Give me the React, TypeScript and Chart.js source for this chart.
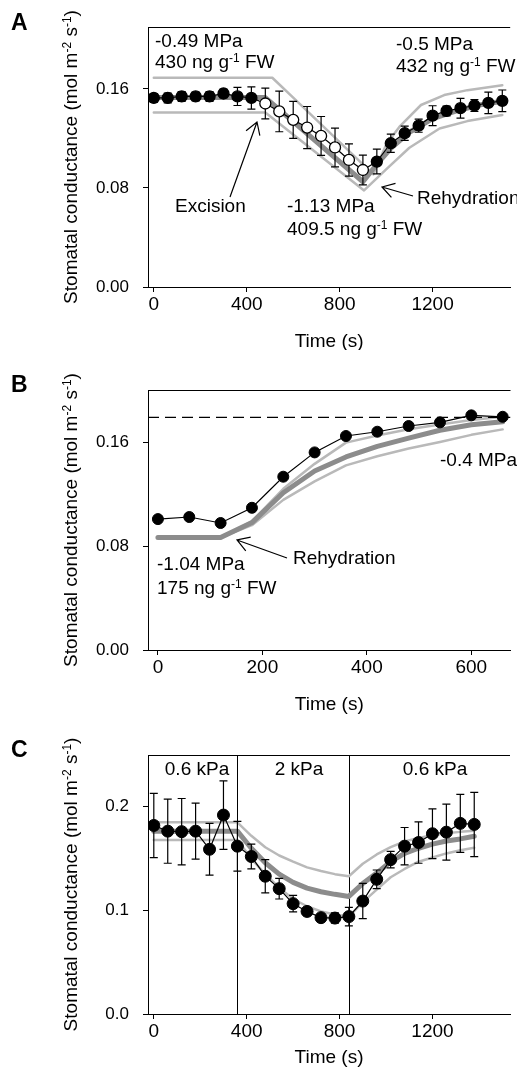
import React, { useEffect, useRef } from "react";
import { Chart, registerables } from "chart.js";
Chart.register(...registerables);

const FONT = '"Liberation Sans", Arial, Helvetica, sans-serif';
const W = 517;

// ---------------- Panel A data ----------------
const timeA = [0, 60, 120, 180, 240, 300, 360, 420, 480, 540, 600, 660, 720, 780, 840, 900, 960, 1020, 1080, 1140, 1200, 1260, 1320, 1380, 1440, 1500];
const gsA = [0.1527, 0.1527, 0.1539, 0.1539, 0.1539, 0.1563, 0.1539, 0.1527, 0.1482, 0.1418, 0.135, 0.1288, 0.122, 0.1127, 0.1026, 0.0945, 0.1013, 0.1161, 0.1242, 0.1303, 0.1384, 0.1422, 0.1444, 0.1466, 0.1487, 0.1504];
const errA = [0.0035, 0.004, 0.004, 0.0035, 0.004, 0.0035, 0.0073, 0.009, 0.0124, 0.0164, 0.015, 0.017, 0.0157, 0.0157, 0.013, 0.012, 0.01, 0.0073, 0.0057, 0.0053, 0.008, 0.004, 0.008, 0.0047, 0.0087, 0.0087];
const excisedA = [480, 540, 600, 660, 720, 780, 840, 900];
const modelA_t = [0, 480, 900, 960, 1020, 1100, 1200, 1300, 1400, 1500];
const modelA = [0.153, 0.153, 0.085, 0.099, 0.112, 0.125, 0.136, 0.142, 0.147, 0.15];
const upperA_t = [0, 510, 600, 700, 800, 900, 945, 1000, 1060, 1150, 1250, 1350, 1500];
const upperA = [0.169, 0.169, 0.153, 0.135, 0.117, 0.099, 0.091, 0.115, 0.13, 0.147, 0.155, 0.159, 0.163];
const lowerA_t = [0, 480, 905, 1000, 1100, 1230, 1350, 1500];
const lowerA = [0.141, 0.141, 0.078, 0.095, 0.1125, 0.128, 0.134, 0.139];
const xTicksA = [0, 400, 800, 1200];
const yTicksA = [0, 0.08, 0.16];
const yLabelsA = ["0.00", "0.08", "0.16"];

// ---------------- Panel B data ----------------
const timeB = [0, 60, 120, 180, 240, 300, 360, 420, 480, 540, 600, 660];
const gsB = [0.1007, 0.1023, 0.0977, 0.1094, 0.1333, 0.152, 0.1646, 0.1679, 0.1723, 0.1751, 0.1805, 0.1794];
const modelB_t = [0, 120, 180, 240, 300, 360, 420, 480, 540, 600, 660];
const modelB = [0.0865, 0.0865, 0.098, 0.121, 0.1377, 0.1485, 0.1566, 0.163, 0.169, 0.1733, 0.1756];
const upperB = [0.0865, 0.0865, 0.099, 0.124, 0.1432, 0.1595, 0.165, 0.1698, 0.1735, 0.177, 0.1794];
const lowerB = [0.0865, 0.0865, 0.096, 0.1155, 0.1297, 0.142, 0.149, 0.155, 0.16, 0.1655, 0.1697];
const wellWateredB = 0.179;
const xTicksB = [0, 200, 400, 600];
const yTicksB = [0, 0.08, 0.16];
const yLabelsB = ["0.00", "0.08", "0.16"];

// ---------------- Panel C data ----------------
const timeC = [0, 60, 120, 180, 240, 300, 360, 420, 480, 540, 600, 660, 720, 780, 840, 900, 960, 1020, 1080, 1140, 1200, 1260, 1320, 1380];
const gsC = [0.182, 0.1765, 0.176, 0.1765, 0.159, 0.192, 0.162, 0.152, 0.133, 0.121, 0.1065, 0.099, 0.093, 0.0926, 0.094, 0.109, 0.13, 0.149, 0.162, 0.1655, 0.174, 0.1755, 0.184, 0.183];
const errC = [0.031, 0.031, 0.032, 0.027, 0.025, 0.033, 0.024, 0.012, 0.016, 0.01, 0.008, 0.004, 0.003, 0.005, 0.009, 0.017, 0.009, 0.008, 0.018, 0.02, 0.024, 0.027, 0.028, 0.031];
const modelC_t = [0, 360, 420, 480, 540, 600, 660, 720, 780, 840, 900, 960, 1020, 1080, 1140, 1200, 1260, 1320, 1380];
const modelC = [0.1765, 0.1765, 0.16, 0.146, 0.135, 0.127, 0.1215, 0.118, 0.1155, 0.1135, 0.126, 0.136, 0.147, 0.155, 0.16, 0.164, 0.167, 0.169, 0.1716];
const upperC = [0.185, 0.185, 0.172, 0.161, 0.153, 0.147, 0.1415, 0.138, 0.135, 0.133, 0.145, 0.154, 0.161, 0.1665, 0.17, 0.1725, 0.1745, 0.1758, 0.1768];
const lowerC = [0.168, 0.168, 0.15, 0.135, 0.122, 0.111, 0.104, 0.099, 0.096, 0.094, 0.108, 0.12, 0.132, 0.14, 0.147, 0.151, 0.155, 0.158, 0.1604];
const vpdChangesC = [360, 840];
const xTicksC = [0, 400, 800, 1200];
const yTicksC = [0, 0.1, 0.2];
const yLabelsC = ["0.0", "0.1", "0.2"];

const Y_TITLE = "Stomatal conductance (mol m^{-2} s^{-1})";

// ---------------- helpers ----------------
const pts = (xs: number[], ys: number[]) => xs.map((x, i) => ({ x, y: ys[i] }));

function parseRich(s: string) {
  const out: { t: string; sup: boolean }[] = [];
  const re = /\^\{([^}]*)\}/g;
  let last = 0;
  let m: RegExpExecArray | null;
  while ((m = re.exec(s))) {
    if (m.index > last) out.push({ t: s.slice(last, m.index), sup: false });
    out.push({ t: m[1], sup: true });
    last = m.index + m[0].length;
  }
  if (last < s.length) out.push({ t: s.slice(last), sup: false });
  return out;
}

function drawRich(ctx: CanvasRenderingContext2D, s: string, x: number, y: number, size: number, align = "left", weight = "normal") {
  const segs = parseRich(s);
  const mainF = `${weight} ${size}px ${FONT}`;
  const supF = `${weight} ${Math.round(size * 0.62)}px ${FONT}`;
  let w = 0;
  const widths = segs.map((g) => {
    ctx.font = g.sup ? supF : mainF;
    const ww = ctx.measureText(g.t).width;
    w += ww;
    return ww;
  });
  let cx = align === "center" ? x - w / 2 : align === "right" ? x - w : x;
  ctx.textAlign = "left";
  ctx.textBaseline = "alphabetic";
  ctx.fillStyle = "#000";
  segs.forEach((g, i) => {
    ctx.font = g.sup ? supF : mainF;
    ctx.fillText(g.t, cx, g.sup ? y - size * 0.32 : y);
    cx += widths[i];
  });
}

function drawArrow(ctx: CanvasRenderingContext2D, x1: number, y1: number, x2: number, y2: number) {
  const a = Math.atan2(y1 - y2, x1 - x2);
  const L = 14;
  const s = 0.55;
  ctx.save();
  ctx.strokeStyle = "#000";
  ctx.lineWidth = 1.2;
  ctx.beginPath();
  ctx.moveTo(x1, y1);
  ctx.lineTo(x2, y2);
  ctx.moveTo(x2 + L * Math.cos(a + s), y2 + L * Math.sin(a + s));
  ctx.lineTo(x2, y2);
  ctx.lineTo(x2 + L * Math.cos(a - s), y2 + L * Math.sin(a - s));
  ctx.stroke();
  ctx.restore();
}

type TextItem = { s: string; x: number; y: number; align?: string };
type ArrowItem = [number, number, number, number];

interface PanelSpec {
  height: number;
  plotTop: number;
  plotBottom: number;
  xMin: number;
  xMax: number;
  yMax: number;
  xTicks: number[];
  yTicks: number[];
  yLabels: string[];
  datasets: any[];
  letter: string;
  letterY: number;
  xTitleY: number;
  texts: TextItem[];
  arrows: ArrowItem[];
  vLines?: number[];
}

const grey = (data: any[], color: string, width: number, order: number) => ({
  data,
  borderColor: color,
  borderWidth: width,
  pointRadius: 0,
  tension: 0,
  fill: false,
  order,
  borderJoinStyle: "round",
  borderCapStyle: "round",
});

function buildConfig(p: PanelSpec): any {
  const decor = {
    id: "decor",
    beforeDatasetsDraw(chart: any) {
      const ctx = chart.ctx;
      const { left, right, top, bottom } = chart.chartArea;
      const xs = chart.scales.x;
      ctx.save();
      ctx.strokeStyle = "#000";
      ctx.lineWidth = 1;
      (p.vLines || []).forEach((v) => {
        const px = Math.round(xs.getPixelForValue(v)) + 0.5;
        ctx.beginPath();
        ctx.moveTo(px, top);
        ctx.lineTo(px, bottom);
        ctx.stroke();
      });
      ctx.restore();
    },
    beforeDatasetDraw(chart: any, args: any) {
      const ds = chart.data.datasets[args.index];
      if (!ds.errorBars) return;
      const ctx = chart.ctx;
      const xs = chart.scales.x;
      const ys = chart.scales.y;
      ctx.save();
      ctx.strokeStyle = "#000";
      ctx.lineWidth = 1.2;
      ds.data.forEach((d: any, i: number) => {
        const e = ds.errorBars[i];
        const px = xs.getPixelForValue(d.x);
        const y1 = ys.getPixelForValue(d.y - e);
        const y2 = ys.getPixelForValue(d.y + e);
        ctx.beginPath();
        ctx.moveTo(px, y1);
        ctx.lineTo(px, y2);
        ctx.moveTo(px - 4, y1);
        ctx.lineTo(px + 4, y1);
        ctx.moveTo(px - 4, y2);
        ctx.lineTo(px + 4, y2);
        ctx.stroke();
      });
      ctx.restore();
    },
    afterDraw(chart: any) {
      const ctx = chart.ctx;
      const { left, right, top, bottom } = chart.chartArea;
      ctx.save();
      ctx.strokeStyle = "#000";
      ctx.lineWidth = 1;
      ctx.beginPath();
      ctx.moveTo(left, Math.round(top) + 0.5);
      ctx.lineTo(right, Math.round(top) + 0.5);
      ctx.stroke();
      // axis titles
      drawRich(ctx, "Time (s)", (left + right) / 2, p.xTitleY, 19, "center");
      ctx.save();
      ctx.translate(77, (top + bottom) / 2);
      ctx.rotate(-Math.PI / 2);
      drawRich(ctx, Y_TITLE, 0, 0, 19, "center");
      ctx.restore();
      // panel letter
      drawRich(ctx, p.letter, 11, p.letterY, 23, "left", "bold");
      // annotations
      p.texts.forEach((t) => drawRich(ctx, t.s, t.x, t.y, 19, t.align || "left"));
      p.arrows.forEach((a) => drawArrow(ctx, a[0], a[1], a[2], a[3]));
      ctx.restore();
    },
  };

  const tickFont = { family: FONT, size: 19 };
  return {
    type: "line",
    data: { datasets: p.datasets },
    plugins: [decor],
    options: {
      responsive: false,
      maintainAspectRatio: false,
      animation: false,
      devicePixelRatio: 1,
      layout: { padding: { top: p.plotTop, left: 0, right: 0, bottom: 0 } },
      plugins: { legend: { display: false }, tooltip: { enabled: false }, title: { display: false } },
      scales: {
        x: {
          type: "linear",
          position: "bottom",
          min: p.xMin,
          max: p.xMax,
          afterBuildTicks: (s: any) => {
            s.ticks = p.xTicks.map((v) => ({ value: v }));
          },
          afterFit: (s: any) => {
            s.height = p.height - p.plotBottom;
          },
          ticks: { font: tickFont, color: "#000", padding: 1, maxRotation: 0, autoSkip: false, callback: (v: any) => String(v) },
          grid: { drawOnChartArea: false, drawTicks: true, tickLength: 5, color: "#000", lineWidth: 1 },
          border: { display: true, color: "#000", width: 1 },
        },
        y: {
          type: "linear",
          position: "left",
          min: 0,
          max: p.yMax,
          afterBuildTicks: (s: any) => {
            s.ticks = p.yTicks.map((v) => ({ value: v }));
          },
          afterFit: (s: any) => {
            s.width = 148;
          },
          ticks: {
            font: { family: FONT, size: 17 },
            color: "#000",
            padding: 14,
            autoSkip: false,
            callback: (v: any) => {
              const i = p.yTicks.findIndex((t) => Math.abs(t - v) < 1e-9);
              return i >= 0 ? p.yLabels[i] : "";
            },
          },
          grid: { drawOnChartArea: false, drawTicks: true, tickLength: 5, color: "#000", lineWidth: 1 },
          border: { display: true, color: "#000", width: 1 },
        },
      },
    },
  };
}

const DARK = "#8c8c8c";
const LIGHT = "#b9b9b9";

const TOP_A = 0, H_A = 350;
const TOP_B = 350, H_B = 370;
const TOP_C = 720, H_C = 351;

function specA(): PanelSpec {
  const data = pts(timeA, gsA);
  return {
    height: H_A,
    plotTop: 27,
    plotBottom: 287,
    xMin: -25,
    xMax: 1534,
    yMax: 0.21,
    xTicks: xTicksA,
    yTicks: yTicksA,
    yLabels: yLabelsA,
    letter: "A",
    letterY: 30,
    xTitleY: 347,
    datasets: [
      {
        data,
        errorBars: errA,
        borderColor: "#000",
        borderWidth: 1.2,
        pointRadius: 5.5,
        pointBorderWidth: 1.3,
        pointBorderColor: "#000",
        pointBackgroundColor: timeA.map((t) => (excisedA.includes(t) ? "#fff" : "#000")),
        tension: 0,
        order: 0,
      },
      grey(pts(modelA_t, modelA), DARK, 5, 2),
      grey(pts(upperA_t, upperA), LIGHT, 2.5, 3),
      grey(pts(lowerA_t, lowerA), LIGHT, 2.5, 3),
    ],
    texts: [
      { s: "-0.49 MPa", x: 155, y: 47 },
      { s: "430 ng g^{-1} FW", x: 155, y: 68 },
      { s: "-0.5 MPa", x: 396, y: 50 },
      { s: "432 ng g^{-1} FW", x: 396, y: 72 },
      { s: "Excision", x: 175, y: 212 },
      { s: "-1.13 MPa", x: 287, y: 212 },
      { s: "409.5 ng g^{-1} FW", x: 287, y: 235 },
      { s: "Rehydration", x: 417, y: 204 },
    ],
    arrows: [
      [230, 197, 257, 122],
      [413, 196, 382, 187],
    ],
  };
}

function specB(): PanelSpec {
  const xMin = -19, xMax = 675;
  return {
    height: H_B,
    plotTop: 40,
    plotBottom: 300,
    xMin,
    xMax,
    yMax: 0.2,
    xTicks: xTicksB,
    yTicks: yTicksB,
    yLabels: yLabelsB,
    letter: "B",
    letterY: 42,
    xTitleY: 360,
    datasets: [
      {
        data: pts(timeB, gsB),
        borderColor: "#000",
        borderWidth: 1.2,
        pointRadius: 5.5,
        pointBorderWidth: 1,
        pointBorderColor: "#000",
        pointBackgroundColor: "#000",
        tension: 0,
        order: 0,
      },
      {
        data: [
          { x: xMin, y: wellWateredB },
          { x: xMax, y: wellWateredB },
        ],
        borderColor: "#000",
        borderWidth: 1.2,
        borderDash: [11, 6],
        pointRadius: 0,
        order: 1,
      },
      grey(pts(modelB_t, modelB), DARK, 5, 2),
      grey(pts(modelB_t, upperB), LIGHT, 2.5, 3),
      grey(pts(modelB_t, lowerB), LIGHT, 2.5, 3),
    ],
    texts: [
      { s: "-0.4 MPa", x: 440, y: 466 - TOP_B },
      { s: "-1.04 MPa", x: 157, y: 570 - TOP_B },
      { s: "175 ng g^{-1} FW", x: 157, y: 594 - TOP_B },
      { s: "Rehydration", x: 293, y: 564 - TOP_B },
    ],
    arrows: [[287, 558 - TOP_B, 237, 540 - TOP_B]],
  };
}

function specC(): PanelSpec {
  return {
    height: H_C,
    plotTop: 35,
    plotBottom: 294,
    xMin: -25,
    xMax: 1534,
    yMax: 0.25,
    xTicks: xTicksC,
    yTicks: yTicksC,
    yLabels: yLabelsC,
    letter: "C",
    letterY: 37,
    xTitleY: 1063 - TOP_C,
    vLines: vpdChangesC,
    datasets: [
      {
        data: pts(timeC, gsC),
        errorBars: errC,
        borderColor: "#000",
        borderWidth: 1.2,
        pointRadius: 6,
        pointBorderWidth: 1,
        pointBorderColor: "#000",
        pointBackgroundColor: "#000",
        tension: 0,
        order: 0,
      },
      grey(pts(modelC_t, modelC), DARK, 5, 2),
      grey(pts(modelC_t, upperC), LIGHT, 2.5, 3),
      grey(pts(modelC_t, lowerC), LIGHT, 2.5, 3),
    ],
    texts: [
      { s: "0.6 kPa", x: 197, y: 775 - TOP_C, align: "center" },
      { s: "2 kPa", x: 299, y: 775 - TOP_C, align: "center" },
      { s: "0.6 kPa", x: 435, y: 775 - TOP_C, align: "center" },
    ],
    arrows: [],
  };
}

function Panel({ top, height, spec }: { top: number; height: number; spec: () => PanelSpec }) {
  const ref = useRef<HTMLCanvasElement>(null);
  useEffect(() => {
    const chart = new Chart(ref.current as HTMLCanvasElement, buildConfig(spec()));
    return () => chart.destroy();
  }, []);
  return (
    <div style={{ position: "absolute", left: 0, top, width: W, height }}>
      <canvas ref={ref} width={W} height={height} style={{ display: "block", width: W, height }} />
    </div>
  );
}

export default function App() {
  return (
    <div style={{ position: "absolute", left: 0, top: 0, width: W, height: 1071, background: "#fff", overflow: "hidden" }}>
      <Panel top={TOP_A} height={H_A} spec={specA} />
      <Panel top={TOP_B} height={H_B} spec={specB} />
      <Panel top={TOP_C} height={H_C} spec={specC} />
    </div>
  );
}
